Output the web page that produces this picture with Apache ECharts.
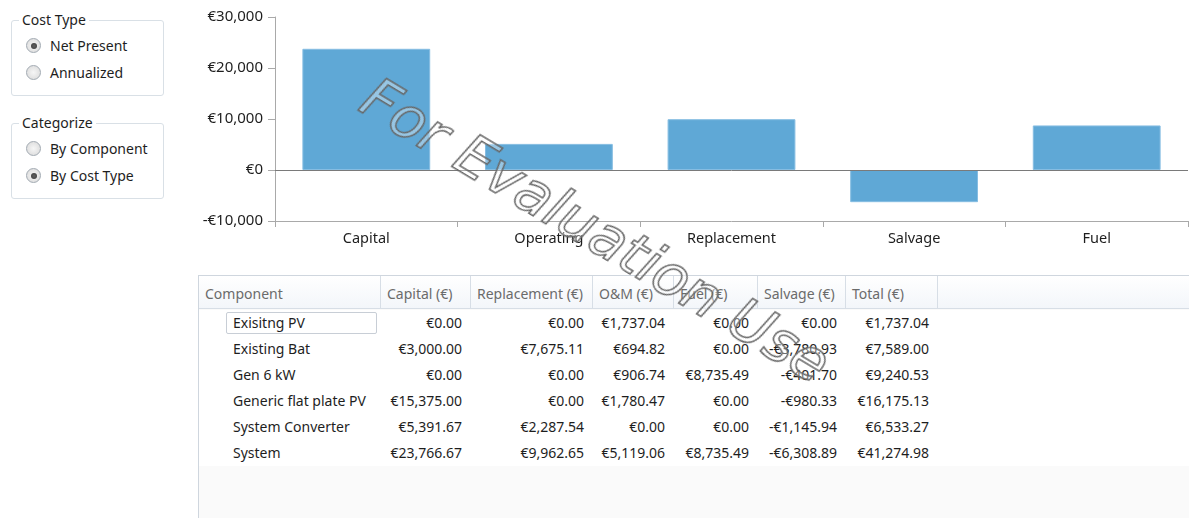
<!DOCTYPE html>
<html>
<head>
<meta charset="utf-8">
<script src="https://cdn.jsdelivr.net/npm/echarts@6/dist/echarts.min.js"></script>
<style>
  html, body { margin: 0; padding: 0; background: #fff; }
  body { width: 1189px; height: 518px; position: relative; overflow: hidden;
         font-family: "Noto Sans", sans-serif; font-size: 14px; color: #1e1e1e; }
  .group { position: absolute; left: 11px; width: 151px; border: 1px solid #d9e0e6; border-radius: 3px; }
  .group .title { position: absolute; left: 7px; top: -11px; background: #fff; padding: 0 3px; line-height: 20px; }
  .radio { position: absolute; left: 14px; height: 20px; line-height: 20px; }
  .radio .dot { position: absolute; left: 0; top: 2px; width: 15px; height: 15px; border-radius: 50%;
                border: 1px solid #a2aab2; background: radial-gradient(circle, #f6f6f6 0, #d8d8d8 100%); box-sizing: border-box; }
  .radio .dot.on::after { content: ""; position: absolute; left: 3.5px; top: 3.5px; width: 6px; height: 6px; border-radius: 50%;
                          background: radial-gradient(circle, #606060 0, #3a3a3a 100%); }
  .radio .lbl { position: absolute; left: 24px; top: 0; white-space: nowrap; }
  #chart { position: absolute; left: 190px; top: 0; width: 999px; height: 262px; }
  #table { position: absolute; left: 198px; top: 275px; width: 991px; height: 243px;
           border-left: 1px solid #cfd6de; border-top: 1px solid #cfd6de; background: #fafafa; box-sizing: border-box; }
  .hdr { position: absolute; top: 0; height: 33px; line-height: 35px; color: #6b6b6b; border-right: 1px solid #d7dee6;
         border-bottom: 1px solid #d7dee6; background: linear-gradient(#ffffff, #f3f6fa); box-sizing: border-box; padding-left: 6px; white-space: nowrap; }
  .rowbg { position: absolute; left: 0; height: 26px; background: #fff; }
  .cell { position: absolute; height: 26px; line-height: 26px; white-space: nowrap; }
  .focus { position: absolute; border: 1px solid #c8ced6; border-radius: 2px; }
  #wm { position: absolute; left: 596px; top: 230px; transform: translate(-50%, -50%) rotate(31deg);
        font-family: "DejaVu Sans", sans-serif; font-style: italic; font-size: 57px; white-space: nowrap;
        color: rgba(255,255,255,0.35); -webkit-text-stroke: 1.5px #666; pointer-events: none; z-index: 10; }
</style>
</head>
<body>
<div class="group" style="top:20px;height:74px;">
  <div class="title">Cost Type</div>
  <div class="radio" style="top:15px;"><div class="dot on"></div><div class="lbl">Net Present</div></div>
  <div class="radio" style="top:42px;"><div class="dot"></div><div class="lbl">Annualized</div></div>
</div>
<div class="group" style="top:123px;height:74px;">
  <div class="title">Categorize</div>
  <div class="radio" style="top:15px;"><div class="dot"></div><div class="lbl">By Component</div></div>
  <div class="radio" style="top:42px;"><div class="dot on"></div><div class="lbl">By Cost Type</div></div>
</div>
<div id="chart"></div>
<div id="table"></div>
<div id="wm">For Evaluation Use</div>
<script>
// chart data (system totals by cost type)
var categories = ["Capital", "Operating", "Replacement", "Salvage", "Fuel"];
var costValues = [23766.67, 5119.06, 9962.65, -6308.89, 8735.49];

// table data
var headers = ["Component", "Capital (€)", "Replacement (€)", "O&M (€)", "Fuel (€)", "Salvage (€)", "Total (€)"];
var components = ["Exisitng PV", "Existing Bat", "Gen 6 kW", "Generic flat plate PV", "System Converter", "System"];
var capitalCol = [0, 3000, 0, 15375, 5391.67, 23766.67];
var replacementCol = [0, 7675.11, 0, 0, 2287.54, 9962.65];
var omCol = [1737.04, 694.82, 906.74, 1780.47, 0, 5119.06];
var fuelCol = [0, 0, 8735.49, 0, 0, 8735.49];
var salvageCol = [0, -3780.93, -401.70, -980.33, -1145.94, -6308.89];
var totalCol = [1737.04, 7589.00, 9240.53, 16175.13, 6533.27, 41274.98];

function euro(v, dec) {
    var s = Math.abs(v).toLocaleString("en-US", {minimumFractionDigits: dec, maximumFractionDigits: dec});
    return (v < 0 ? "-€" : "€") + s;
}

var myChart = echarts.init(document.getElementById("chart"));
var option = {
    animation: false,
    grid: { left: 85, right: 1, top: 17, bottom: 41 },
    xAxis: {
        type: "category",
        data: categories,
        axisLine: { onZero: false, lineStyle: { color: "#a9a9a9" } },
        axisTick: { show: true, length: 6, lineStyle: { color: "#a9a9a9" } },
        axisLabel: { color: "#1e1e1e", fontSize: 14.5, margin: 10, fontFamily: "Noto Sans" }
    },
    yAxis: {
        type: "value",
        min: -10000,
        max: 30000,
        interval: 10000,
        axisLine: { show: true, lineStyle: { color: "#a9a9a9" } },
        axisTick: { show: true, length: 7, lineStyle: { color: "#a9a9a9" } },
        splitLine: { show: false },
        axisLabel: {
            color: "#1e1e1e", fontSize: 15, margin: 12, fontFamily: "Noto Sans",
            formatter: function(v) { return euro(v, 0); }
        }
    },
    series: [{
        type: "bar",
        data: costValues,
        barCategoryGap: "30%",
        itemStyle: { color: "#5fa8d6", borderColor: "#86bde2", borderWidth: 1 },
        markLine: {
            silent: true,
            symbol: "none",
            label: { show: false },
            lineStyle: { color: "#7a7a7a", type: "solid", width: 1 },
            data: [{ yAxis: 0 }]
        }
    }]
};
myChart.setOption(option);

// table
var colEdges = [0, 182, 272, 394, 475, 559, 647, 739];
var table = document.getElementById("table");
var html = "";
for (var i = 0; i < headers.length; i++) {
    html += '<div class="hdr" style="left:' + colEdges[i] + 'px;width:' + (colEdges[i + 1] - colEdges[i]) + 'px;">' + headers[i] + '</div>';
}
html += '<div class="hdr" style="left:739px;width:260px;"></div>';
var cols = [capitalCol, replacementCol, omCol, fuelCol, salvageCol, totalCol];
for (var r = 0; r < components.length; r++) {
    var rowTop = 34 + r * 26;
    html += '<div class="rowbg" style="top:' + rowTop + 'px;width:991px;"></div>';
    html += '<div class="cell" style="top:' + rowTop + 'px;left:34px;">' + components[r] + '</div>';
    for (var c = 0; c < cols.length; c++) {
        var right = 991 - colEdges[c + 2] + 8;
        html += '<div class="cell" style="top:' + rowTop + 'px;right:' + right + 'px;">' + euro(cols[c][r], 2) + '</div>';
    }
}
html += '<div class="focus" style="left:27px;top:36px;width:149px;height:20px;"></div>';
table.innerHTML = html;
</script>
</body>
</html>
